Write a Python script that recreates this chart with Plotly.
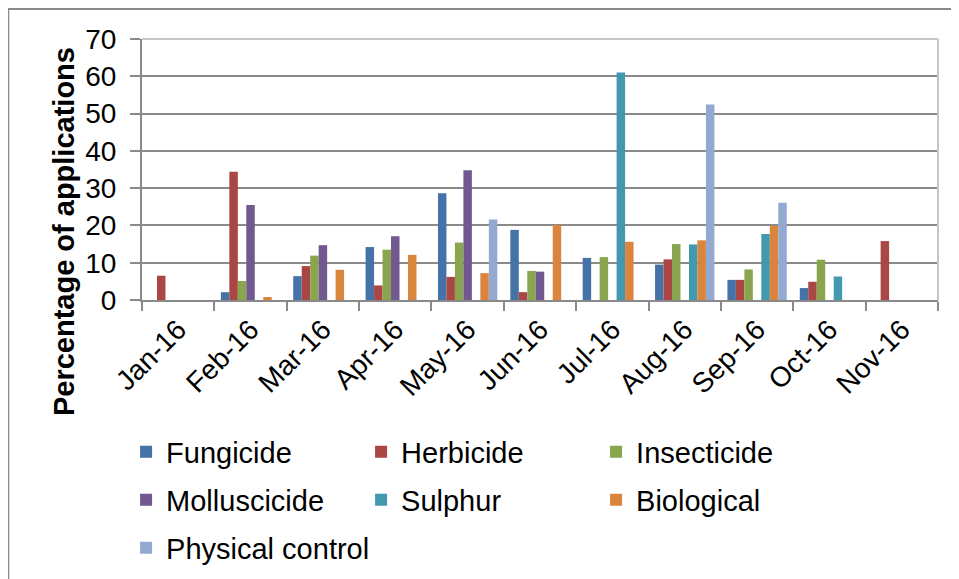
import plotly.graph_objects as go


# ==========================================================
# DATA
# ==========================================================

months = ["Jan-16", "Feb-16", "Mar-16", "Apr-16", "May-16", "Jun-16",
          "Jul-16", "Aug-16", "Sep-16", "Oct-16", "Nov-16"]

fungicide = [0, 2.1, 6.4, 14.2, 28.6, 18.8, 11.3, 9.5, 5.4, 3.2, 0]
herbicide = [6.5, 34.4, 9.1, 3.9, 6.2, 2.1, 0, 10.9, 5.4, 4.9, 15.8]
insecticide = [0, 5.1, 11.9, 13.5, 15.4, 7.8, 11.5, 15.0, 8.2, 10.8, 0]
molluscicide = [0, 25.5, 14.7, 17.1, 34.8, 7.6, 0, 0, 0, 0, 0]
sulphur = [0, 0, 0, 0, 0, 0, 61.0, 14.9, 17.7, 6.3, 0]
biological = [0, 0.8, 8.1, 12.1, 7.2, 20.1, 15.6, 16.0, 19.9, 0, 0]
physical_control = [0, 0, 0, 0, 21.6, 0, 0, 52.4, 26.1, 0, 0]

# (name, values, colour, legend row)
series = [
    ("Fungicide", fungicide, "#4572A7", "legend"),
    ("Herbicide", herbicide, "#AA4643", "legend"),
    ("Insecticide", insecticide, "#89A54E", "legend"),
    ("Molluscicide", molluscicide, "#71588F", "legend2"),
    ("Sulphur", sulphur, "#4198AF", "legend2"),
    ("Biological", biological, "#DB843D", "legend2"),
    ("Physical control", physical_control, "#93A9CF", "legend3"),
]


# ==========================================================
# FIGURE
# ==========================================================

FONT = "Liberation Sans, Arial, sans-serif"
GRID = "#8A8A8A"

fig = go.Figure()

for name, values, color, legend in series:
    fig.add_trace(
        go.Bar(
            x=months,
            y=values,
            name=name,
            legend=legend,
            marker=dict(color=color, line=dict(width=0))
        )
    )


def legend_row(y, fixed=True):
    row = dict(
        orientation="h",
        x=-0.02,
        y=y,
        xanchor="left",
        yanchor="middle",
        font=dict(family=FONT, size=29, color="#000000"),
        bgcolor="rgba(0,0,0,0)",
        traceorder="normal",
    )
    if fixed:
        row["entrywidth"] = 190
        row["entrywidthmode"] = "pixels"
    return row


fig.update_layout(
    width=959,
    height=579,
    margin=dict(l=134, r=29, t=31, b=287, autoexpand=False),
    paper_bgcolor="white",
    plot_bgcolor="white",
    barmode="group",
    bargap=0.18,
    bargroupgap=0,
    font=dict(family=FONT, size=28, color="#000000"),
    showlegend=True,
    legend=legend_row(-0.582),
    legend2=legend_row(-0.766),
    legend3=legend_row(-0.950, fixed=False),
)

fig.update_xaxes(
    type="category",
    tickangle=-45,
    tickson="boundaries",
    ticks="outside",
    ticklen=9,
    tickcolor=GRID,
    tickwidth=2,
    showgrid=False,
    showline=True,
    linecolor=GRID,
    linewidth=2,
    automargin=False,
    tickfont=dict(family=FONT, size=28),
)

fig.update_yaxes(
    range=[0, 70],
    dtick=10,
    ticks="outside",
    ticklen=10,
    ticklabelstandoff=8,
    tickcolor=GRID,
    tickwidth=2,
    showgrid=True,
    gridcolor=GRID,
    gridwidth=2,
    showline=True,
    linecolor=GRID,
    linewidth=2,
    zeroline=False,
    automargin=False,
    tickfont=dict(family=FONT, size=28),
)

# plot area border (top / right) and outer chart frame
fig.add_shape(type="line", xref="paper", yref="paper",
              x0=0, x1=1, y0=1, y1=1, line=dict(color="#C8C8C8", width=2))
fig.add_shape(type="line", xref="paper", yref="paper",
              x0=1, x1=1, y0=0, y1=1, line=dict(color="#C8C8C8", width=2))
fig.add_shape(type="rect", xref="paper", yref="paper",
              x0=-0.168, x1=1.05, y0=-1.2, y1=1.115,
              line=dict(color=GRID, width=2), layer="below")

fig.add_annotation(
    text="<b>Percentage of applications</b>",
    xref="paper", yref="paper",
    x=-0.098, y=0.264,
    xanchor="center", yanchor="middle",
    textangle=-90,
    showarrow=False,
    font=dict(family=FONT, size=29, color="#000000"),
)

fig.write_html("out.html")
